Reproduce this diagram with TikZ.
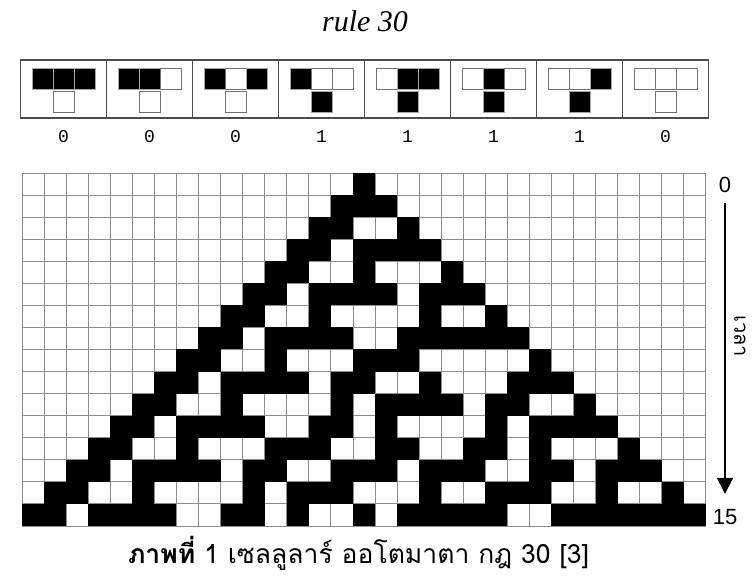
\documentclass[tikz,border=0pt]{standalone}
\usepackage{fontspec}
\setmainfont{Liberation Serif}
\setsansfont{Liberation Sans}
\setmonofont{Liberation Mono}
\newfontfamily\thaifont[Script=Thai]{Loma}
\usetikzlibrary{arrows.meta}

\tikzset{
  gridline/.style={draw=black!45, line width=0.8pt},
  rulebox/.style={draw=black!70, line width=1.2pt},
  cell1/.style={fill=black, draw=black!35, line width=0.8pt},
  cell0/.style={fill=white, draw=black!55, line width=0.8pt},
  timearrow/.style={line width=2pt, -{Triangle[length=16pt,width=16pt]}},
  timelabel/.style={font=\sffamily\fontsize{22}{22}\selectfont},
}

\begin{document}
\begin{tikzpicture}[x=1pt,y=1pt]
\useasboundingbox (0,0) rectangle (756,584);

\node (title) at (365,552) [anchor=base, font=\fontsize{30}{30}\selectfont\itshape] {rule 30};

% neighbourhoods of rule 30
\foreach \i/\a/\b/\c/\n in {0/1/1/1/0, 1/1/1/0/0, 2/1/0/1/0, 3/1/0/0/1, 4/0/1/1/1, 5/0/1/0/1, 6/0/0/1/1, 7/0/0/0/0} {
  \draw[rulebox] (20.5+86*\i,466) rectangle ++(86,58);
  \draw[cell\a] (32+86*\i,495) rectangle ++(21,21);
  \draw[cell\b] (53+86*\i,495) rectangle ++(21,21);
  \draw[cell\c] (74+86*\i,495) rectangle ++(21,21);
  \draw[cell\n] (53+86*\i,472) rectangle ++(21,21);
  \node (out\i) at (63.5+86*\i,441) [anchor=base, font=\ttfamily\fontsize{18}{18}\selectfont] {\n};
}

% 16 generations
\begin{scope}[shift={(22,411)}, x=22.06pt, y=-22.06pt]
  \foreach \c in {0,...,31} \draw[gridline] (\c,0) -- (\c,16);
  \foreach \r in {0,...,16} \draw[gridline] (0,\r) -- (31,\r);
  \foreach \r/\cols in {0/{15}, 1/{14,15,16}, 2/{13,14,17}, 3/{12,13,15,16,17,18},
      4/{11,12,15,19}, 5/{10,11,13,14,15,16,18,19,20}, 6/{9,10,13,18,21},
      7/{8,9,11,12,13,14,17,18,19,20,21,22}, 8/{7,8,11,15,16,17,23},
      9/{6,7,9,10,11,12,14,15,18,22,23,24}, 10/{5,6,9,14,16,17,18,19,21,22,25},
      11/{4,5,7,8,9,10,13,14,16,21,23,24,25,26}, 12/{3,4,7,11,12,13,16,17,20,21,23,27},
      13/{2,3,5,6,7,8,10,11,14,15,16,18,19,20,23,24,26,27,28},
      14/{1,2,5,10,12,13,14,18,21,22,23,26,29},
      15/{0,1,3,4,5,6,9,10,12,15,17,18,19,20,21,24,25,26,27,28,29,30}} {
    \foreach \c in \cols
      \fill (\c,\r) rectangle ++(1,1);
  }
\end{scope}

\node[timelabel] (t0) at (725,399) {0};
\node[timelabel] (t15) at (725,67) {15};
\draw[timearrow, shorten <=7pt, shorten >=12pt] (t0.south) -- (t15.north);
\node[rotate=-90, font=\thaifont\fontsize{20}{20}\selectfont] (time) at (740,248) {เวลา};

\node (caption) at (358.5,20) [anchor=base, font=\thaifont\fontsize{26.5}{26.5}\selectfont] {\textbf{ภาพที่} 1 เซลลูลาร์ ออโตมาตา กฎ 30 [3]};
\end{tikzpicture}
\end{document}
